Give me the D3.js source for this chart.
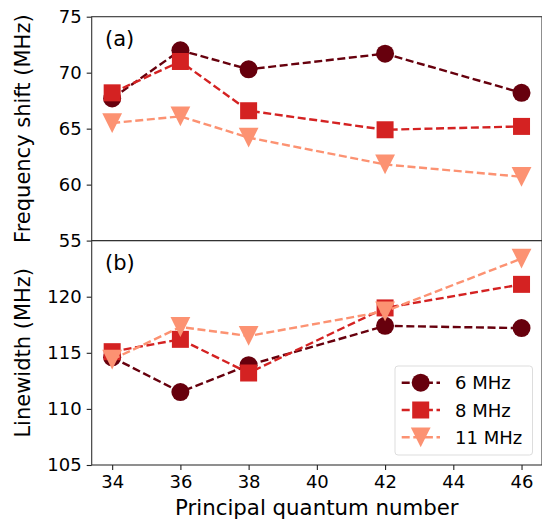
<!DOCTYPE html>
<html>
<head>
<meta charset="utf-8">
<script src="https://cdn.jsdelivr.net/npm/d3@7"></script>
<style>
body { margin: 0; background: #fff; }
text { font-family: "DejaVu Sans", sans-serif; fill: #000; }
</style>
</head>
<body>
<svg id="chart"></svg>
<script>
// principal quantum numbers
var nValues = [34, 36, 38, 42, 46];
var seriesNames = ["6 MHz", "8 MHz", "11 MHz"];

// (a) frequency shift, MHz
var shift6 = [67.7, 72.0, 70.3, 71.7, 68.2];
var shift8 = [68.2, 71.0, 66.6, 64.9, 65.2];
var shift11 = [65.5, 66.1, 64.2, 61.8, 60.7];

// (b) linewidth, MHz
var width6 = [114.6, 111.5, 113.9, 117.4, 117.2];
var width8 = [115.1, 116.2, 113.2, 119.0, 121.1];
var width11 = [114.4, 117.3, 116.5, 118.7, 123.4];

var xTicks = [34, 36, 38, 40, 42, 44, 46];
var shiftTicks = [55, 60, 65, 70, 75];
var widthTicks = [105, 110, 115, 120];

var colors = ["#67000d", "#d42222", "#fc9272"];
var shapes = ["circle", "square", "triangle"];

var W = 542, H = 521;
var svg = d3.select("#chart").attr("width", W).attr("height", H);

var left = 91.7, right = 542;
var x = d3.scaleLinear().domain([33.4, 46.6]).range([left, right]);

var yA = d3.scaleLinear().domain([55, 75]).range([240.6, 16.7]);
var yB = d3.scaleLinear().domain([105, 125]).range([465, 240.6]);

function marker(sel, shape, color, s) {
  if (shape === "circle") {
    sel.append("circle").attr("r", s / 2).attr("fill", color);
  } else if (shape === "square") {
    sel.append("rect").attr("x", -s / 2 + 0.5).attr("y", -s / 2 + 0.5)
      .attr("width", s - 1).attr("height", s - 1).attr("fill", color);
  } else {
    var h = s * 0.55;
    sel.append("path").attr("d", "M" + (-h) + "," + (-h) + "L" + h + "," + (-h) + "L0," + h + "Z")
      .attr("fill", color);
  }
}

function panel(y, data, ticks, label, ylabel) {
  var g = svg.append("g");

  data.forEach(function(vals, i) {
    var line = d3.line()
      .x(function(d, j) { return x(nValues[j]); })
      .y(function(d) { return y(d); });
    g.append("path").datum(vals)
      .attr("d", line)
      .attr("fill", "none")
      .attr("stroke", colors[i])
      .attr("stroke-width", 2.4)
      .attr("stroke-dasharray", "8,3.6");
    vals.forEach(function(v, j) {
      var m = g.append("g").attr("transform", "translate(" + x(nValues[j]) + "," + y(v) + ")");
      marker(m, shapes[i], colors[i], 18);
    });
  });

  var yAxis = d3.axisLeft(y).tickValues(ticks).tickSize(5).tickPadding(5);
  var ag = svg.append("g").attr("transform", "translate(" + left + ",0)").call(yAxis);
  ag.select(".domain").remove();
  ag.selectAll("text").style("font-size", "18px");
  ag.selectAll("line").attr("stroke", "#222").attr("stroke-width", 1.1);

  svg.append("rect")
    .attr("x", left).attr("y", y.range()[1])
    .attr("width", right - left).attr("height", y.range()[0] - y.range()[1])
    .attr("fill", "none").attr("stroke", "#333").attr("stroke-width", 1.1);

  svg.append("text")
    .attr("x", 105).attr("y", y.range()[1] + 29.5)
    .style("font-size", "21px")
    .text(label);

  var cy = (y.range()[0] + y.range()[1]) / 2;
  svg.append("text")
    .attr("transform", "translate(30," + cy + ") rotate(-90)")
    .attr("text-anchor", "middle")
    .style("font-size", "21px")
    .text(ylabel);
}

panel(yA, [shift6, shift8, shift11], shiftTicks, "(a)", "Frequency shift (MHz)");
panel(yB, [width6, width8, width11], widthTicks, "(b)", "Linewidth (MHz)");

var xAxis = d3.axisBottom(x).tickValues(xTicks).tickSize(5).tickPadding(5);
var xg = svg.append("g").attr("transform", "translate(0,465)").call(xAxis);
xg.select(".domain").remove();
xg.selectAll("text").style("font-size", "18px");
xg.selectAll("line").attr("stroke", "#222").attr("stroke-width", 1.1);

svg.append("text")
  .attr("x", (left + right) / 2).attr("y", 515)
  .attr("text-anchor", "middle")
  .style("font-size", "21.3px")
  .text("Principal quantum number");

// legend
var lg = svg.append("g").attr("transform", "translate(395,366)");
lg.append("rect").attr("width", 137.5).attr("height", 89).attr("rx", 3)
  .attr("fill", "#fff").attr("fill-opacity", 0.8)
  .attr("stroke", "#ddd").attr("stroke-width", 1);
seriesNames.forEach(function(name, i) {
  var ry = 16.7 + i * 27.3;
  lg.append("line").attr("x1", 6.7).attr("x2", 45).attr("y1", ry).attr("y2", ry)
    .attr("stroke", colors[i]).attr("stroke-width", 2.4).attr("stroke-dasharray", "8,3.6");
  var m = lg.append("g").attr("transform", "translate(25.7," + ry + ")");
  marker(m, shapes[i], colors[i], 18);
  lg.append("text").attr("x", 60).attr("y", ry + 6.5)
    .style("font-size", "18px").text(name);
});
</script>
</body>
</html>
